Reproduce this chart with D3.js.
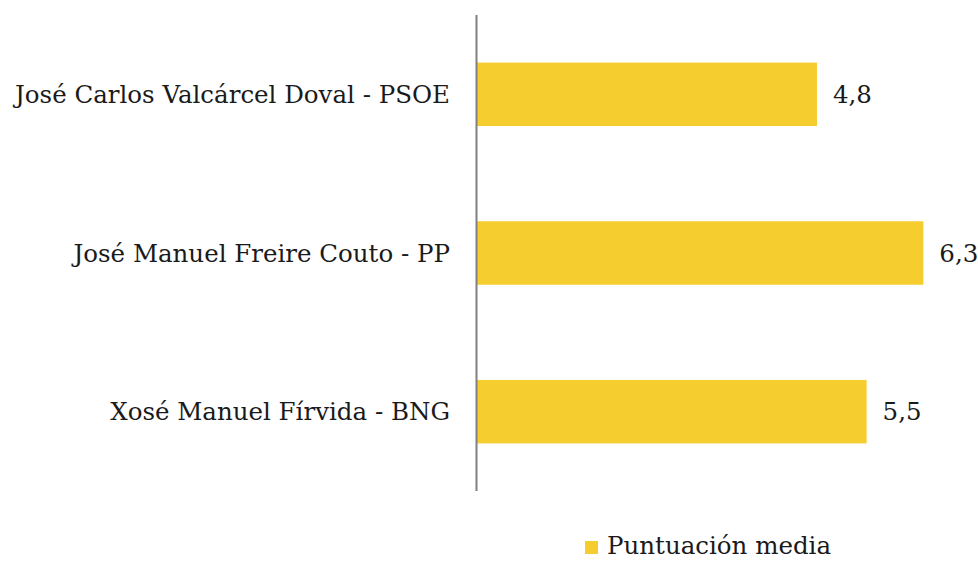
<!DOCTYPE html>
<html>
<head>
<meta charset="utf-8">
<script src="https://cdn.jsdelivr.net/npm/d3@7"></script>
<style>
  body { margin: 0; background: #fff; }
  text { font-family: "DejaVu Serif", serif; fill: #1a1a1a; }
</style>
</head>
<body>
<div id="chart"></div>
<script>
var candidates = ["José Carlos Valcárcel Doval - PSOE", "José Manuel Freire Couto - PP", "Xosé Manuel Fírvida - BNG"];
var scores = [4.8, 6.3, 5.5];
var valueLabels = ["4,8", "6,3", "5,5"];
var seriesName = "Puntuación media";

var width = 978, height = 562;
var barColor = "#F5CD2E";

var svg = d3.select("#chart").append("svg")
  .attr("width", width)
  .attr("height", height);

var x = d3.scaleLinear().domain([0, 7]).range([476.5, 973]);
var y = d3.scaleBand().domain(candidates).range([15, 491])
  .paddingInner(0.6).paddingOuter(0.3);

// bars
svg.append("g").selectAll("rect")
  .data(candidates)
  .enter().append("rect")
  .attr("x", x(0))
  .attr("y", function(d) { return y(d); })
  .attr("width", function(d, i) { return x(scores[i]) - x(0); })
  .attr("height", y.bandwidth())
  .attr("fill", barColor);

// category labels
svg.append("g").selectAll("text")
  .data(candidates)
  .enter().append("text")
  .attr("x", 450)
  .attr("y", function(d) { return y(d) + y.bandwidth() / 2; })
  .attr("dy", "0.35em")
  .attr("text-anchor", "end")
  .style("font-size", "24.5px")
  .text(function(d) { return d; });

// value labels
svg.append("g").selectAll("text")
  .data(candidates)
  .enter().append("text")
  .attr("x", function(d, i) { return x(scores[i]) + 16; })
  .attr("y", function(d) { return y(d) + y.bandwidth() / 2; })
  .attr("dy", "0.35em")
  .style("font-size", "24.5px")
  .text(function(d, i) { return valueLabels[i]; });

// vertical axis line
svg.append("line")
  .attr("x1", x(0)).attr("x2", x(0))
  .attr("y1", 15).attr("y2", 491)
  .attr("stroke", "#808080")
  .attr("stroke-width", 2);

// legend
var legend = svg.append("g").attr("transform", "translate(585,541)");
legend.append("rect")
  .attr("width", 13).attr("height", 13)
  .attr("fill", barColor);
legend.append("text")
  .attr("x", 22).attr("y", 13)
  .style("font-size", "24.5px")
  .text(seriesName);
</script>
</body>
</html>
